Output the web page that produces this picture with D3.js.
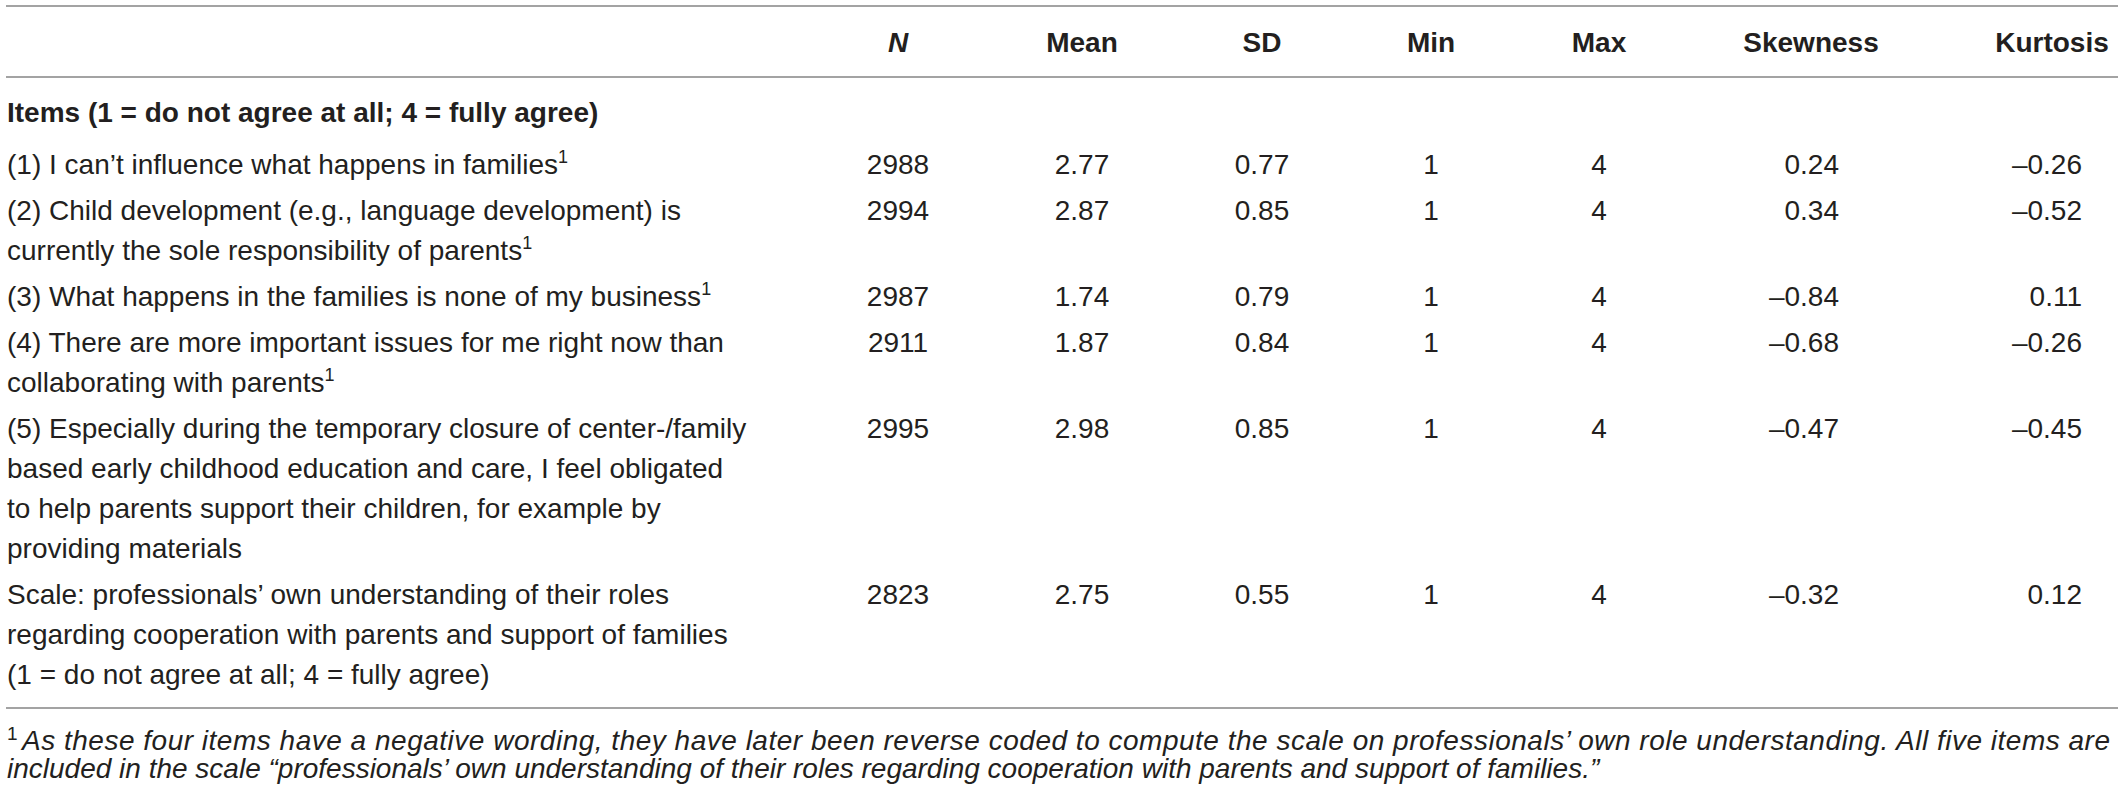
<!DOCTYPE html>
<html>
<head>
<meta charset="utf-8">
<script src="https://cdn.jsdelivr.net/npm/d3@7"></script>
<style>
  body { margin: 0; background: #fff; }
  text { font-family: "Liberation Sans", Arial, sans-serif; fill: #231f20; }
</style>
</head>
<body>
<svg id="table"></svg>
<script>
const columns = ['N', 'Mean', 'SD', 'Min', 'Max', 'Skewness', 'Kurtosis'];
const sectionTitle = 'Items (1 = do not agree at all; 4 = fully agree)';
const rowLabels = [
    ['(1) I can’t influence what happens in families'],
    ['(2) Child development (e.g., language development) is', 'currently the sole responsibility of parents'],
    ['(3) What happens in the families is none of my business'],
    ['(4) There are more important issues for me right now than', 'collaborating with parents'],
    ['(5) Especially during the temporary closure of center-/family', 'based early childhood education and care, I feel obligated',
        'to help parents support their children, for example by', 'providing materials'],
    ['Scale: professionals’ own understanding of their roles', 'regarding cooperation with parents and support of families',
        '(1 = do not agree at all; 4 = fully agree)']
];
const rowNote = [true, true, true, true, false, false];
const nValues = [2988, 2994, 2987, 2911, 2995, 2823];
const meanValues = [2.77, 2.87, 1.74, 1.87, 2.98, 2.75];
const sdValues = [0.77, 0.85, 0.79, 0.84, 0.85, 0.55];
const minValues = [1, 1, 1, 1, 1, 1];
const maxValues = [4, 4, 4, 4, 4, 4];
const skewValues = [0.24, 0.34, -0.84, -0.68, -0.47, -0.32];
const kurtValues = [-0.26, -0.52, 0.11, -0.26, -0.45, 0.12];
const footnoteLines = [
    'As these four items have a negative wording, they have later been reverse coded to compute the scale on professionals’ own role understanding. All five items are',
    'included in the scale “professionals’ own understanding of their roles regarding cooperation with parents and support of families.”'
];

// ---- layout ----
const width = 2118, height = 799;
const left = 7;
const fontSize = 28;
const lineGap = 40, rowGap = 6;

const svg = d3.select('#table')
    .attr('width', width)
    .attr('height', height);

const locale = d3.formatLocale({ decimal: '.', thousands: ',', grouping: [3], currency: ['', ''], minus: '–' });
const f2 = locale.format('.2f');
const f0 = locale.format('d');

// column centres for headers, and anchors for the values
const headX = d3.scaleOrdinal(columns, [898, 1082, 1262, 1431, 1599, 1811, 2052]);
const valX = d3.scaleOrdinal(columns, [898, 1082, 1262, 1431, 1599, 1839, 2082]);
const valAnchor = d3.scaleOrdinal(columns, ['middle', 'middle', 'middle', 'middle', 'middle', 'end', 'end']);

// vertical: slot index -> baseline
const y = d3.scaleLinear().domain([0, 1]).range([174, 174 + lineGap]);
let slot = 0;
const rows = rowLabels.map((lines, i) => {
    const r = {
        lines: lines, note: rowNote[i], slot: slot,
        values: [f0(nValues[i]), f2(meanValues[i]), f2(sdValues[i]), f0(minValues[i]),
                 f0(maxValues[i]), f2(skewValues[i]), f2(kurtValues[i])]
    };
    slot += lines.length + rowGap / lineGap;
    return r;
});

// rules
const rules = [6, 77, 708];
svg.selectAll('line.rule')
    .data(rules)
    .join('line')
    .attr('class', 'rule')
    .attr('x1', 6).attr('x2', width)
    .attr('y1', d => d).attr('y2', d => d)
    .attr('stroke', '#a3a3a3')
    .attr('stroke-width', 2);

// header
svg.selectAll('text.head')
    .data(columns)
    .join('text')
    .attr('class', 'head')
    .attr('x', d => headX(d))
    .attr('y', 52)
    .attr('text-anchor', 'middle')
    .attr('font-size', fontSize)
    .attr('font-weight', 'bold')
    .attr('font-style', d => d === 'N' ? 'italic' : 'normal')
    .text(d => d);

svg.append('text')
    .attr('x', left)
    .attr('y', 122)
    .attr('font-size', fontSize)
    .attr('font-weight', 'bold')
    .text(sectionTitle);

// row labels
const rowG = svg.selectAll('g.row')
    .data(rows)
    .join('g')
    .attr('class', 'row');

rowG.each(function (r) {
    const g = d3.select(this);
    g.selectAll('text.label')
        .data(r.lines)
        .join('text')
        .attr('class', 'label')
        .attr('x', left)
        .attr('y', (d, j) => y(r.slot + j))
        .attr('font-size', fontSize)
        .each(function (d, j) {
            const t = d3.select(this);
            t.append('tspan').text(d);
            if (r.note && j === r.lines.length - 1) {
                t.append('tspan')
                    .attr('font-size', 18)
                    .attr('dy', -11)
                    .text('1');
            }
        });

    g.selectAll('text.val')
        .data(columns)
        .join('text')
        .attr('class', 'val')
        .attr('x', c => valX(c))
        .attr('y', y(r.slot))
        .attr('text-anchor', c => valAnchor(c))
        .attr('font-size', fontSize)
        .text((c, k) => r.values[k]);
});

// footnote
const footY = [750, 778];
svg.append('text')
    .attr('x', left)
    .attr('y', 740)
    .attr('font-size', 19)
    .text('1');

svg.selectAll('text.foot')
    .data(footnoteLines)
    .join('text')
    .attr('class', 'foot')
    .attr('x', (d, i) => i === 0 ? 22 : left)
    .attr('y', (d, i) => footY[i])
    .attr('font-size', fontSize)
    .attr('font-style', 'italic')
    .each(function (d, i) {
        if (i === 0) {
            d3.select(this)
                .attr('textLength', 2110 - 22)
                .attr('lengthAdjust', 'spacing');
        }
    })
    .text(d => d);
</script>
</body>
</html>
